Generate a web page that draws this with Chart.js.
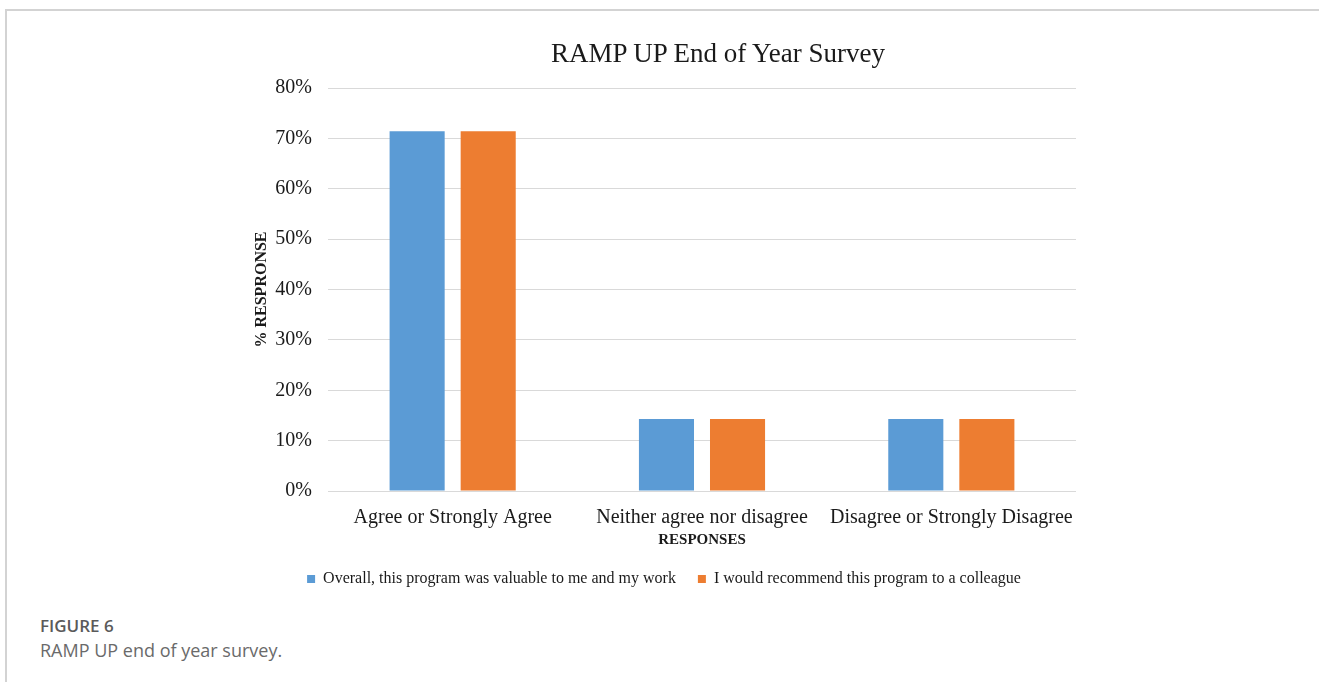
<!DOCTYPE html>
<html>
<head>
<meta charset="utf-8">
<script src="https://cdn.jsdelivr.net/npm/chart.js@4"></script>
<style>
  body { margin: 0; background: #fff; }
  #frame-top { position: absolute; left: 6px; top: 9px; width: 1313px; height: 2px; background: #d3d3d3; }
  #frame-left { position: absolute; left: 5px; top: 9px; width: 2px; height: 673px; background: #d3d3d3; }
  #wrap { position: absolute; left: 0; top: 0; width: 1319px; height: 600px; }
  #title { position: absolute; left: 468px; width: 500px; top: 38px; text-align: center;
           font-family: "Liberation Serif", "Times New Roman", serif; font-size: 27px; color: #1a1a1a; }
  .cap1 { position: absolute; left: 40px; top: 614px; font-family: "Open Sans", sans-serif;
          font-weight: 600; font-size: 17px; color: #5a5a5a; }
  .cap2 { position: absolute; left: 40px; top: 638px; font-family: "Open Sans", sans-serif;
          font-size: 18px; color: #6a6a6a; }
</style>
</head>
<body>
<div id="frame-top"></div>
<div id="frame-left"></div>
<div id="wrap"><canvas id="survey-chart" width="1319" height="600"></canvas></div>
<div id="title">RAMP UP End of Year Survey</div>
<div class="cap1">FIGURE 6</div>
<div class="cap2">RAMP UP end of year survey.</div>
<script>
const categories = ["Agree or Strongly Agree", "Neither agree nor disagree", "Disagree or Strongly Disagree"];
const valuable = [71.4, 14.3, 14.3];
const recommend = [71.4, 14.3, 14.3];
const seriesNames = ["Overall, this program was valuable to me and my work", "I would recommend this program to a colleague"];

const serif = "'Liberation Serif', 'Times New Roman', serif";

const ctx = document.getElementById('survey-chart');
const myChart = new Chart(ctx, {
  type: 'bar',
  data: {
    labels: categories,
    datasets: [
      { label: seriesNames[0], data: valuable, backgroundColor: "#5B9BD5" },
      { label: seriesNames[1], data: recommend, backgroundColor: "#ED7D31" }
    ]
  },
  options: {
    responsive: false,
    animation: false,
    categoryPercentage: 0.57,
    barPercentage: 0.775,
    layout: { padding: { left: 252, right: 243, top: 88, bottom: 3 } },
    plugins: {
      tooltip: { enabled: false },
      legend: {
        position: 'bottom',
        labels: {
          boxWidth: 8, boxHeight: 8, padding: 22,
          color: "#1a1a1a",
          font: { family: serif, size: 16 }
        }
      }
    },
    scales: {
      x: {
        afterFit: (scale) => { scale.height = 58; },
        grid: { display: false, drawTicks: false },
        border: { display: false },
        ticks: { color: "#1a1a1a", padding: 15, maxRotation: 0, font: { family: serif, size: 20 } },
        title: {
          display: true, text: "RESPONSES", color: "#1a1a1a",
          padding: { top: 5, bottom: 0 },
          font: { family: serif, size: 15, weight: 'bold' }
        }
      },
      y: {
        min: 0, max: 80,
        afterFit: (scale) => { scale.width = 76; },
        grid: { color: "#d9d9d9", drawTicks: false },
        border: { display: false },
        ticks: {
          stepSize: 10, padding: 16, color: "#1a1a1a",
          font: { family: serif, size: 20 },
          callback: (v) => v + "%"
        },
        title: {
          display: true, text: "% RESPRONSE", color: "#1a1a1a",
          padding: 0,
          font: { family: serif, size: 16, weight: 'bold' }
        }
      }
    }
  }
});
</script>
</body>
</html>
